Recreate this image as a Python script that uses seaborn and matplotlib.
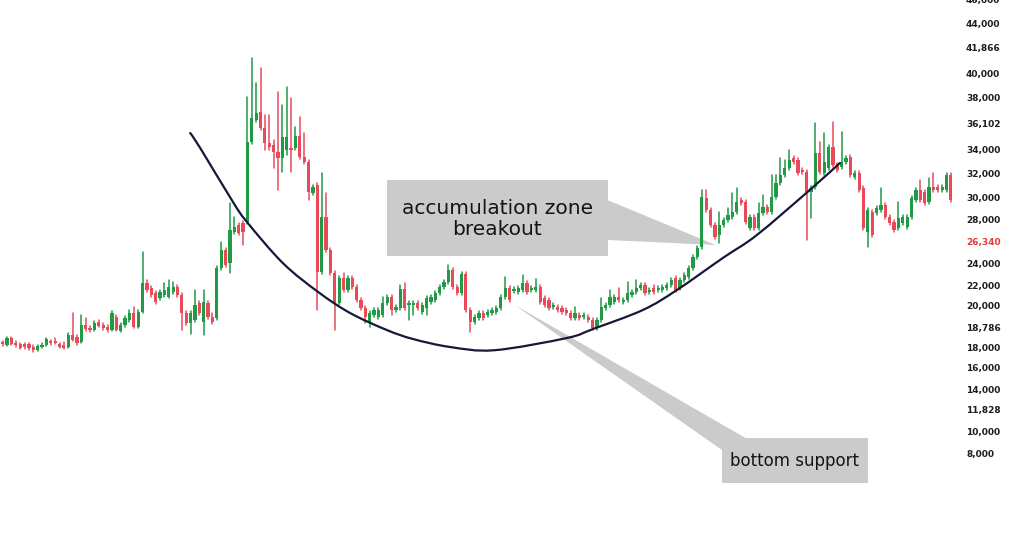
import numpy as np
import pandas as pd
import matplotlib
matplotlib.use("Agg")
import matplotlib.pyplot as plt
import seaborn as sns
from matplotlib.patches import Polygon, Rectangle, PathPatch
from matplotlib.path import Path

# ---------------- data ----------------
opens = [
    17188, 17020, 17608, 17188, 17104, 17104, 17104, 16852, 16600, 16852,
    17020, 17272, 17356, 17104, 17020, 16852, 17860, 17692, 17272, 18700,
    18448, 18280, 18952, 18700, 18532, 18280, 19372, 18196, 18700, 19120,
    19708, 18532, 19792, 22228, 21808, 21388, 20968, 21220, 21052, 21472,
    21892, 21220, 19708, 18868, 19120, 20548, 18952, 20548, 19372, 19288,
    23488, 25000, 23908, 26512, 27100, 27268, 27352, 34072, 35920, 36592,
    35248, 33988, 33820, 33232, 32728, 33400, 33568, 33568, 34576, 32812,
    32392, 29788, 30460, 23152, 27772, 25000, 23068, 20548, 22648, 21640,
    22648, 21892, 20800, 20128, 18952, 19540, 19372, 19540, 20548, 21052,
    19960, 20128, 21724, 20380, 20380, 20548, 19792, 20128, 20632, 20800,
    21388, 21892, 22312, 23320, 21892, 21388, 22984, 19960, 18952, 19288,
    19708, 19540, 19708, 19792, 20128, 21052, 21808, 21556, 21472, 21640,
    22228, 21640, 21640, 21892, 20968, 20800, 20212, 20212, 20128, 19960,
    19708, 19288, 19540, 19372, 19372, 19120, 18448, 19120, 20128, 20380,
    20632, 21052, 20632, 20800, 21220, 21472, 21808, 22060, 21472, 21808,
    21640, 21640, 21808, 22060, 22648, 21808, 22480, 22732, 23488, 24412,
    25252, 29368, 28360, 27100, 26260, 27100, 27520, 27772, 28192, 29200,
    29032, 26848, 27772, 26848, 28108, 28612, 28192, 29452, 30628, 31300,
    31888, 32728, 32560, 31720, 31552, 29872, 30292, 33148, 31468, 31888,
    33652, 32140, 31972, 32392, 32812, 31132, 31468, 30208, 26512, 28192,
    28108, 28360, 28780, 27772, 27352, 26848, 27268, 26932, 27772, 29200,
    30040, 29872, 29032, 30292, 30292, 30040, 30040, 31300,
]
highs = [
    17356, 17692, 17692, 17356, 17188, 17188, 17188, 17020, 17020, 17188,
    17608, 17440, 17608, 17188, 17272, 18028, 19708, 17860, 19540, 19288,
    18616, 19036, 19120, 18868, 18700, 19876, 19540, 18868, 19456, 19960,
    20212, 19960, 24832, 22480, 21976, 21556, 21640, 22228, 22480, 22312,
    22060, 21388, 19876, 19876, 21640, 20716, 21640, 20716, 19708, 23656,
    25672, 25168, 28948, 27772, 27268, 27436, 37852, 41128, 39028, 40288,
    36340, 36340, 34240, 38272, 37180, 38692, 37768, 35332, 36172, 34828,
    32560, 30460, 30628, 31468, 29788, 25168, 23236, 22816, 23068, 22816,
    22816, 22060, 20968, 20296, 19876, 20128, 20128, 21052, 21220, 21220,
    20380, 22060, 22228, 20716, 20716, 20716, 20548, 21136, 21220, 21556,
    22060, 22480, 23740, 23488, 22060, 23152, 23152, 20128, 19540, 19876,
    19876, 19960, 20128, 20296, 21220, 22732, 21976, 21892, 21976, 22900,
    22396, 21976, 22564, 22060, 21136, 20968, 20548, 20380, 20296, 20128,
    19876, 20212, 19708, 19708, 19540, 19288, 19288, 20968, 20548, 21640,
    21220, 21808, 20968, 22312, 21640, 22480, 22228, 22228, 21808, 22060,
    21976, 22060, 22228, 22648, 22816, 22648, 23068, 23656, 24580, 25336,
    30040, 30040, 28528, 27268, 28192, 27688, 28528, 29788, 30208, 29368,
    29200, 27940, 27940, 28948, 29620, 28780, 31300, 31300, 32728, 32560,
    33400, 32896, 32728, 31888, 31720, 30376, 35668, 34072, 34828, 33820,
    35752, 32308, 34912, 32896, 32980, 31636, 31636, 30376, 28528, 28360,
    28696, 30208, 28948, 27940, 27520, 29032, 27940, 27940, 29536, 30208,
    30880, 30040, 31048, 31468, 30460, 30460, 31468, 31468,
]
lows = [
    16936, 16936, 17020, 16852, 16684, 16684, 16600, 16432, 16516, 16768,
    16936, 17020, 17104, 16768, 16684, 16768, 17356, 17020, 17188, 18196,
    18112, 18196, 18532, 18280, 18112, 18196, 18196, 18112, 18532, 18952,
    18448, 18448, 19708, 21472, 21052, 20464, 20800, 21052, 20968, 21304,
    21052, 18280, 18700, 17944, 18952, 19540, 17860, 19204, 18784, 19120,
    23320, 23572, 23068, 26344, 26260, 25420, 27184, 33904, 35752, 35080,
    33400, 33400, 31888, 30040, 31552, 32980, 31552, 33400, 32644, 32224,
    29200, 29620, 19960, 22984, 24832, 22900, 18280, 20380, 21472, 21472,
    21724, 20632, 19960, 18868, 18532, 19372, 19204, 19372, 20380, 19540,
    19792, 19960, 19960, 19120, 19540, 19960, 19624, 19540, 20464, 20632,
    21220, 21724, 22144, 21724, 21220, 21220, 19792, 18112, 18784, 19120,
    19120, 19372, 19540, 19624, 19960, 20884, 20632, 21388, 21304, 21472,
    21304, 21472, 21472, 20464, 20212, 19960, 20044, 19792, 19624, 19540,
    19120, 19120, 19120, 19204, 18952, 18280, 18280, 18952, 19960, 20212,
    20464, 20632, 20464, 20632, 21052, 21304, 21640, 21220, 21304, 21304,
    21472, 21472, 21640, 21892, 21472, 21640, 22312, 22564, 23320, 24244,
    25084, 28192, 26932, 25924, 25588, 26932, 27352, 27604, 28024, 28780,
    27184, 26680, 26680, 26680, 27940, 28024, 28024, 29284, 30460, 31132,
    31720, 32224, 31300, 31384, 25840, 27688, 30124, 31384, 31300, 31720,
    31972, 31552, 31804, 32224, 31132, 30964, 29872, 26680, 25252, 26092,
    27940, 28192, 27604, 27100, 26512, 26680, 27100, 26764, 27604, 29032,
    29032, 28780, 28864, 29872, 29872, 29872, 29872, 29032,
]
closes = [
    17104, 17608, 17104, 17020, 16768, 16852, 16768, 16600, 16936, 17020,
    17524, 17188, 17188, 16852, 16768, 17860, 17440, 17188, 18700, 18364,
    18280, 18868, 18616, 18448, 18280, 19708, 18280, 18700, 19288, 19708,
    18532, 19792, 22228, 21640, 21220, 20632, 21472, 21640, 21892, 21892,
    21220, 19708, 18868, 19708, 20380, 19708, 20632, 19372, 18952, 23488,
    25000, 23740, 26680, 26932, 26428, 26512, 34072, 36088, 36508, 35248,
    33988, 33652, 33232, 32728, 34492, 34492, 33400, 34576, 32812, 32392,
    29872, 30292, 23152, 27772, 25000, 23068, 20548, 22648, 21640, 22648,
    21892, 20800, 20128, 19372, 19708, 19960, 19960, 20548, 21052, 19960,
    20212, 21724, 20128, 20548, 20548, 20128, 20380, 20968, 21052, 21388,
    21892, 22312, 23320, 21892, 21388, 22984, 19960, 18952, 19372, 19708,
    19288, 19792, 19960, 20128, 21052, 21808, 20800, 21724, 21808, 22228,
    21472, 21808, 21892, 20632, 20380, 20128, 20380, 19960, 19792, 19708,
    19288, 19708, 19288, 19540, 19120, 18448, 19120, 20212, 20380, 21052,
    21052, 20800, 20800, 21388, 21472, 21808, 22060, 21388, 21640, 21472,
    21808, 21892, 22060, 22480, 21640, 22480, 22900, 23488, 24412, 25168,
    29452, 28360, 27100, 26092, 27100, 27520, 27940, 28192, 29032, 28948,
    27352, 27772, 26848, 28108, 28612, 28192, 29452, 30628, 31300, 31888,
    32560, 32392, 31468, 31552, 29872, 30208, 33148, 31552, 32392, 33652,
    32140, 31720, 32392, 32728, 31300, 31468, 30040, 26848, 28360, 26260,
    28528, 28780, 27772, 27268, 26680, 27688, 27772, 27772, 29368, 30040,
    29200, 28948, 30292, 30040, 30040, 30292, 31300, 29200,
]

# price-axis labels (as printed on the chart) and where they sit on the price scale
ytick_values = [46000, 43984, 41968, 39868, 37768, 35584, 33484, 31384, 29452, 27604,
                25756, 23908, 22060, 20296, 18532, 16768, 15172, 13324, 11560, 9796, 7864]
ytick_labels = ["46,000", "44,000", "41,866", "40,000", "38,000", "36,102", "34,000",
                "32,000", "30,000", "28,000", "26,340", "24,000", "22,000", "20,000",
                "18,786", "18,000", "16,000", "14,000", "11,828", "10,000", "8,000"]
current_price_label = "26,340"

# rounded-bottom trend curve through these points (candle index, price)
curve_x = [42.9, 45.2, 52.7, 55.9, 64.1, 72.2, 79.5, 87.9, 93.9, 102.4,
           112.5, 129.1, 135.1, 146.5, 154.3, 164.8, 172.6, 184.7, 191.6]
curve_y = [34828, 33568, 29032, 27352, 23908, 21472, 19708, 18280, 17524, 16852,
           16580, 17608, 18364, 19960, 21640, 24328, 26260, 30040, 32308]

callout_top = "accumulation zone\nbreakout"
callout_bottom = "bottom support"

# ---------------- style ----------------
GREEN = "#1f9a45"
RED = "#e84a5a"
BOX = "#cbcbcb"

sns.set_theme(style="white")
plt.rcParams["font.family"] = ["DejaVu Sans"]

fig = plt.figure(figsize=(10.24, 5.6), dpi=100)
fig.patch.set_facecolor("white")
ax = fig.add_axes([0, 0, 957 / 1024, 1])
ax.set_facecolor("white")

o = np.array(opens, dtype=float)
h = np.array(highs, dtype=float)
l = np.array(lows, dtype=float)
c = np.array(closes, dtype=float)
x = np.arange(len(o))
direction = np.where(c >= o, "up", "down")
cols = np.where(c >= o, GREEN, RED)

# wicks: one vertical segment per candle, drawn with seaborn
wicks = pd.DataFrame({
    "x": np.repeat(x, 2),
    "price": np.column_stack([l, h]).ravel(),
    "candle": np.repeat(x, 2),
    "dir": np.repeat(direction, 2),
})
sns.lineplot(data=wicks, x="x", y="price", units="candle", estimator=None,
             hue="dir", palette={"up": GREEN, "down": RED}, sort=False,
             linewidth=1.1, legend=False, ax=ax, zorder=3)

# bodies
ax.bar(x, np.maximum(np.abs(c - o), 130), bottom=np.minimum(o, c), width=0.74,
       color=cols, linewidth=0, zorder=4)

# smooth curve (Catmull-Rom through the read points, as cubic Bezier segments)
P = np.column_stack([curve_x, curve_y]).astype(float)
Pext = np.vstack([P[0], P, P[-1]])
verts = [tuple(P[0])]
codes = [Path.MOVETO]
for i in range(1, len(Pext) - 2):
    p0, p1, p2, p3 = Pext[i - 1], Pext[i], Pext[i + 1], Pext[i + 2]
    c1 = p1 + (p2 - p0) / 6.0
    c2 = p2 - (p3 - p1) / 6.0
    verts += [tuple(c1), tuple(c2), tuple(p2)]
    codes += [Path.CURVE4, Path.CURVE4, Path.CURVE4]
ax.add_patch(PathPatch(Path(verts, codes), facecolor="none", edgecolor="#17173a",
                       linewidth=1.6, capstyle="round", zorder=5))

# callout 1: accumulation zone breakout
ax.add_patch(Rectangle((87.9, 24496), 138.5 - 87.9, 30880 - 24496,
                       facecolor=BOX, edgecolor="none", zorder=1))
ax.add_patch(Polygon([(138.4, 29200), (138.4, 25840), (163.2, 25420)], closed=True,
                     facecolor=BOX, edgecolor="none", zorder=1))
ax.text(113.2, 27600, callout_top, ha="center", va="center", fontsize=14.5,
        color="#141414", linespacing=1.1, zorder=6)

# callout 2: bottom support
ax.add_patch(Polygon([(117.2, 20380), (164.6, 8200), (164.6, 9208), (170.0, 9208)],
                     closed=True, facecolor=BOX, edgecolor="none", zorder=1))
ax.add_patch(Rectangle((164.6, 5428), 198.0 - 164.6, 9208 - 5428,
                       facecolor=BOX, edgecolor="none", zorder=1))
ax.text(181.3, 7300, callout_bottom, ha="center", va="center", fontsize=12,
        color="#141414", zorder=6)

ax.set_xlim(-0.62, 218.4)
ax.set_ylim(-1040, 46000)
ax.set_xticks([])
ax.yaxis.tick_right()
ax.set_yticks(ytick_values)
ax.set_yticklabels(ytick_labels)
ax.tick_params(axis="y", length=0, pad=6.5, labelsize=6.5)
for lab in ax.get_yticklabels():
    lab.set_fontweight("bold")
    lab.set_color("#e53935" if lab.get_text() == current_price_label else "#1e1e1e")
for s in ax.spines.values():
    s.set_visible(False)
ax.grid(False)
ax.set_xlabel("")
ax.set_ylabel("")

fig.savefig("out.png", dpi=100, facecolor="white")
